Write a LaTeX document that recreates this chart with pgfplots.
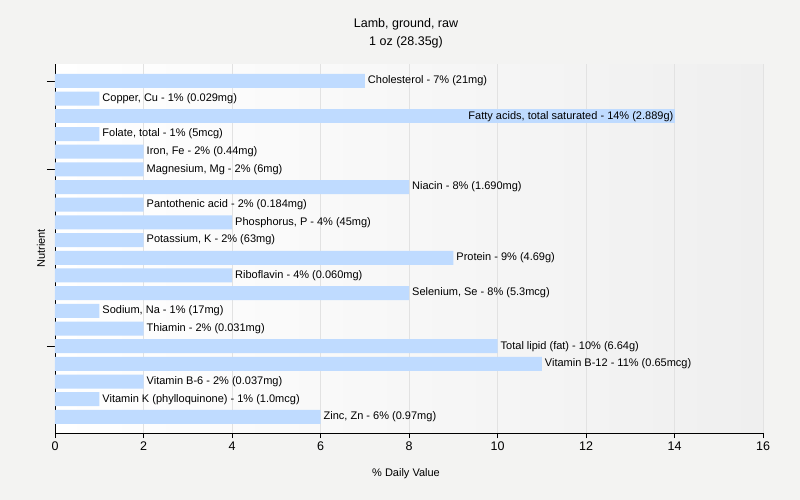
\documentclass[border=0pt]{standalone}
\usepackage{fontspec}
\setmainfont{Liberation Sans}
\usepackage{pgfplots}
\pgfplotsset{compat=1.18}
\usepackage{pgfplotstable}

\definecolor{barblue}{HTML}{BFDBFF}
\definecolor{pagebg}{HTML}{F3F3F2}
\definecolor{plotright}{HTML}{EFEFEF}
\definecolor{gridgray}{HTML}{E2E2E2}
\newcommand\fs{\fontsize{11bp}{13bp}\selectfont}

% index; % daily value; label
\pgfplotstableread[col sep=semicolon]{
idx;val;label
0;7;Cholesterol - 7\% (21mg)
1;1;Copper, Cu - 1\% (0.029mg)
3;1;Folate, total - 1\% (5mcg)
4;2;Iron, Fe - 2\% (0.44mg)
5;2;Magnesium, Mg - 2\% (6mg)
6;8;Niacin - 8\% (1.690mg)
7;2;Pantothenic acid - 2\% (0.184mg)
8;4;Phosphorus, P - 4\% (45mg)
9;2;Potassium, K - 2\% (63mg)
10;9;Protein - 9\% (4.69g)
11;4;Riboflavin - 4\% (0.060mg)
12;8;Selenium, Se - 8\% (5.3mcg)
13;1;Sodium, Na - 1\% (17mg)
14;2;Thiamin - 2\% (0.031mg)
15;10;Total lipid (fat) - 10\% (6.64g)
16;11;Vitamin B-12 - 11\% (0.65mcg)
17;2;Vitamin B-6 - 2\% (0.037mg)
18;1;Vitamin K (phylloquinone) - 1\% (1.0mcg)
19;6;Zinc, Zn - 6\% (0.97mg)
}\nutrients

\pgfplotstableread[col sep=semicolon]{
idx;val;label
2;14;Fatty acids, total saturated - 14\% (2.889g)
}\fatty

\begin{document}
\begin{tikzpicture}
\fill[pagebg] (0,0) rectangle (800bp,500bp);
\useasboundingbox (0,0) rectangle (800bp,500bp);
\begin{axis}[
    at={(55bp,67bp)}, anchor=south west,
    scale only axis, width=708bp, height=369bp,
    xbar, bar width=14bp, bar shift=0pt,
    xmin=0, xmax=16, ymin=-0.96, ymax=19.91, y dir=reverse,
    xtick={0,2,...,16}, ytick={0,5,15}, yticklabels={},
    axis x line*=bottom, axis y line*=left,
    axis line style={black, -},
    tick align=outside, major tick length=5bp, tick style={black},
    ytick style={/pgfplots/major tick length=8bp},
    xmajorgrids, grid style={gridgray},
    axis background/.style={shade, left color=white, right color=plotright},
    /pgf/number format/assume math mode=true,
    tick label style={font=\fontsize{12.5bp}{14bp}\selectfont},
    title={Lamb, ground, raw\\1 oz (28.35g)},
    title style={font=\fontsize{12.5bp}{18bp}\selectfont, align=center,
        at={(axis description cs:0.4958,1.067)}, anchor=center},
    xlabel={\% Daily Value},
    xlabel style={font=\fs, at={(axis description cs:0.4958,-0.11)}, anchor=center},
    ylabel={Nutrient},
    ylabel style={font=\fs, at={(axis description cs:-0.0198,0.5)}, anchor=center, rotate=0},
    nodes near coords={\pgfplotspointmeta},
    point meta=explicit symbolic,
]
\addplot[draw=none, fill=barblue,
    nodes near coords style={font=\fs, text=black, anchor=west, inner xsep=3bp}]
    table[x=val, y=idx, meta=label] {\nutrients};
\addplot[draw=none, fill=barblue,
    nodes near coords style={font=\fs, text=black, anchor=east, inner xsep=1bp}]
    table[x=val, y=idx, meta=label] {\fatty};
\end{axis}
\end{tikzpicture}
\end{document}
